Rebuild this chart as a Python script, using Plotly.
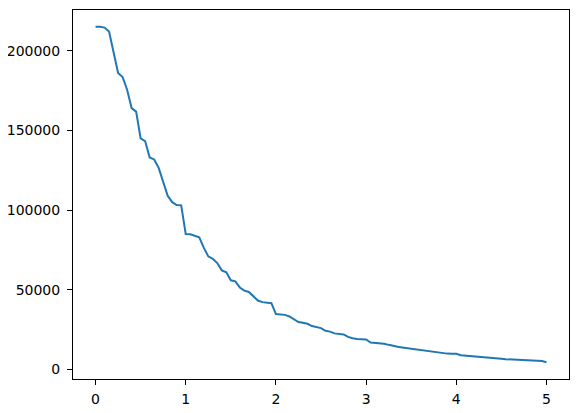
import plotly.graph_objects as go

x_values = [round(i * 0.05, 2) for i in range(101)]
y_values = [
    215000, 215000, 214500, 212000, 199000, 186000, 183500, 175500, 164000, 161800,
    145000, 143300, 133000, 131800, 126500, 117000, 109000, 105000, 103200, 103000,
    85000, 84800, 84000, 83000, 76500, 71000, 69500, 66800, 62200, 61000,
    56000, 55300, 51500, 49500, 48700, 46000, 43300, 42300, 41800, 41600,
    34800, 34600, 34300, 33300, 31300, 29800, 29300, 28700, 27300, 26500,
    26000, 24300, 23800, 22700, 22200, 22000, 20500, 19600, 19200, 19000,
    18900, 17000, 16800, 16600, 16200, 15500, 14700, 14300, 13900, 13500,
    13100, 12700, 12000, 11700, 11500, 11100, 10600, 10300, 10000, 9900,
    9900, 9000, 8800, 8600, 8300, 7900, 7600, 7400, 7200, 7000,
    6800, 6500, 6300, 6200, 6100, 5900, 5700, 5600, 5500, 5400,
    4600,
]
x_ticks = [0, 1, 2, 3, 4, 5]
x_tick_labels = ["0", "1", "2", "3", "4", "5"]
y_ticks = [0, 50000, 100000, 150000, 200000]
y_tick_labels = ["0", "50000", "100000", "150000", "200000"]

fig = go.Figure()
fig.add_trace(go.Scatter(
    x=x_values, y=y_values, mode="lines",
    line=dict(color="#1f77b4", width=2),
    showlegend=False, hoverinfo="skip",
))

ymin, ymax = min(y_values), max(y_values)
pad = (ymax - ymin) * 0.05
axis_common = dict(
    showgrid=False, zeroline=False, showline=True, linecolor="black",
    linewidth=1, mirror=True, ticks="outside", ticklen=5, tickwidth=1,
    tickcolor="black", automargin=False,
    tickfont=dict(family="DejaVu Sans", size=14, color="black"),
)
fig.update_xaxes(range=[-0.25, 5.25], tickvals=x_ticks, ticktext=x_tick_labels,
                 ticklabelstandoff=2, **axis_common)
fig.update_yaxes(range=[ymin - pad, ymax + pad], tickvals=y_ticks, ticktext=y_tick_labels,
                 ticklabelstandoff=4, **axis_common)

# page body adds an 8px offset, so the figure is sized to compensate
fig.update_layout(
    width=570, height=405,
    margin=dict(l=65, r=9, t=2, b=34, pad=0),
    plot_bgcolor="white", paper_bgcolor="white",
)
fig.write_html("out.html")
